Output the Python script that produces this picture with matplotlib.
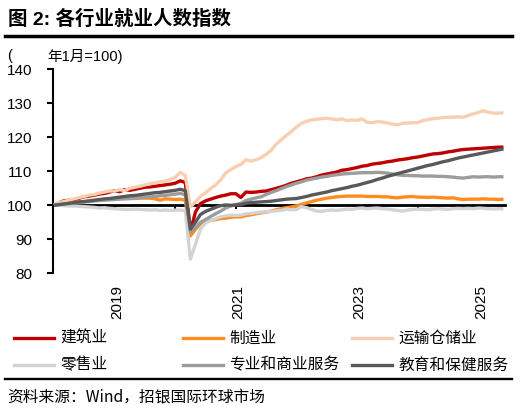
import matplotlib
matplotlib.use("Agg")
import matplotlib.pyplot as plt
from matplotlib.lines import Line2D
from matplotlib.transforms import blended_transform_factory

plt.rcParams['font.family'] = ['Liberation Sans', 'Noto Sans CJK SC', 'DejaVu Sans']

# Monthly index, Jan 2018 = 100 (Jan 2018 .. Jun 2025)
construction = [
    100.0, 100.8, 101.3, 101.5, 101.6, 102.1, 102.5, 102.7, 103.0, 103.3, 103.5, 103.9,
    104.3, 104.0, 104.6, 104.4, 104.7, 105.0, 105.3, 105.4, 105.6, 105.8, 106.0, 106.2,
    106.5, 107.2, 106.7, 92.3, 98.0, 100.5, 101.3, 101.8, 102.3, 102.7, 103.0, 103.4,
    103.4, 102.3, 103.9, 103.8, 103.9, 104.1, 104.2, 104.6, 105.0, 105.4, 105.9, 106.5,
    106.9, 107.3, 107.8, 108.0, 108.4, 108.9, 109.2, 109.5, 109.8, 110.3, 110.5, 110.8,
    111.1, 111.5, 111.7, 112.1, 112.3, 112.5, 112.8, 113.0, 113.3, 113.5, 113.7, 114.0,
    114.2, 114.5, 114.8, 115.1, 115.2, 115.4, 115.7, 115.9, 116.2, 116.4, 116.5, 116.6,
    116.7, 116.8, 116.9, 117.0, 117.1, 117.1]
manufacturing = [
    100.0, 100.2, 100.5, 100.6, 100.8, 101.0, 101.1, 101.3, 101.4, 101.6, 101.7, 101.8,
    101.9, 102.0, 102.0, 102.0, 102.0, 102.1, 102.1, 102.1, 101.9, 101.5, 101.9, 101.8,
    101.7, 101.8, 101.5, 91.0, 92.9, 94.6, 95.1, 95.6, 95.8, 96.1, 96.2, 96.5,
    96.6, 96.6, 97.0, 97.2, 97.5, 97.8, 98.0, 98.3, 98.7, 99.0, 99.3, 99.5,
    99.8, 100.3, 100.7, 101.1, 101.5, 101.8, 102.1, 102.3, 102.5, 102.6, 102.7, 102.7,
    102.7, 102.7, 102.6, 102.6, 102.6, 102.5, 102.5, 102.3, 102.2, 102.4, 102.5, 102.6,
    102.4, 102.4, 102.3, 102.4, 102.3, 102.2, 102.1, 102.2, 101.9, 101.7, 101.8, 101.8,
    101.8, 101.9, 101.8, 101.8, 101.7, 101.8]
transport = [
    100.0, 100.9, 101.1, 101.6, 101.9, 102.3, 102.6, 103.0, 103.2, 103.6, 103.9, 104.2,
    104.2, 104.6, 104.3, 105.0, 105.3, 105.6, 106.0, 106.3, 106.6, 106.9, 107.1, 107.6,
    108.2, 109.7, 108.8, 99.5, 101.0, 102.6, 103.7, 104.9, 106.0, 107.5, 109.5, 110.5,
    111.4, 112.0, 113.4, 113.0, 113.4, 114.0, 115.0, 116.2, 118.0, 119.3, 120.5, 121.7,
    123.0, 124.1, 124.7, 125.1, 125.3, 125.5, 125.6, 125.4, 125.2, 125.4, 124.9, 125.1,
    125.0, 125.4, 124.4, 124.3, 124.6, 124.5, 124.2, 123.9, 123.7, 124.1, 124.2, 124.3,
    124.3, 124.9, 125.2, 125.5, 125.6, 125.8, 125.9, 125.9, 126.0, 125.9, 126.4, 126.9,
    127.3, 127.8, 127.4, 127.1, 127.1, 127.2]
retail = [
    100.0, 100.0, 99.9, 99.8, 99.8, 99.7, 99.6, 99.5, 99.4, 99.2, 99.3, 99.1,
    99.0, 98.9, 98.8, 98.8, 98.9, 98.8, 98.7, 98.6, 98.7, 98.5, 98.6, 98.5,
    98.6, 98.6, 98.4, 84.2, 88.5, 93.0, 94.8, 95.5, 96.1, 96.6, 96.9, 97.1,
    97.0, 97.1, 97.5, 97.6, 97.8, 98.0, 98.1, 98.2, 98.4, 98.5, 98.9, 98.7,
    98.8, 99.6, 99.3, 98.8, 98.3, 98.2, 98.5, 98.6, 98.5, 98.7, 98.9, 98.8,
    99.1, 99.2, 99.0, 99.1, 99.2, 99.0, 98.9, 98.7, 98.5, 98.3, 98.6, 98.8,
    98.9, 98.8, 98.7, 98.9, 99.0, 98.9, 98.8, 99.0, 99.1, 99.0, 99.1, 99.0,
    99.2, 99.1, 99.0, 98.9, 99.0, 99.0]
professional = [
    100.0, 100.2, 100.4, 100.5, 100.7, 100.9, 101.0, 101.1, 101.3, 101.4, 101.5, 101.6,
    101.7, 101.8, 101.9, 102.0, 102.1, 102.3, 102.4, 102.5, 102.6, 102.8, 102.9, 103.1,
    103.3, 103.5, 103.1, 92.2, 93.4, 95.0, 95.8, 96.7, 97.5, 98.3, 99.2, 99.8,
    100.2, 100.6, 101.4, 101.8, 102.2, 102.5, 103.2, 103.8, 104.3, 104.9, 105.5, 106.0,
    106.5, 106.9, 107.4, 107.7, 108.0, 108.3, 108.5, 108.8, 109.0, 109.2, 109.3, 109.4,
    109.5, 109.6, 109.6, 109.6, 109.7, 109.6, 109.5, 109.2, 109.0, 108.8, 108.8, 108.7,
    108.7, 108.6, 108.6, 108.6, 108.5, 108.5, 108.4, 108.3, 108.1, 108.0, 108.2, 108.4,
    108.3, 108.4, 108.4, 108.3, 108.4, 108.4]
education = [
    100.0, 100.2, 100.4, 100.6, 100.8, 101.0, 101.1, 101.3, 101.5, 101.7, 101.9, 102.0,
    102.2, 102.4, 102.6, 102.8, 102.9, 103.1, 103.3, 103.5, 103.7, 103.8, 104.0, 104.2,
    104.4, 104.7, 104.3, 93.0, 95.0, 97.3, 98.2, 98.8, 99.4, 99.9, 100.1, 100.0,
    100.1, 100.2, 100.6, 100.8, 100.9, 101.0, 101.1, 101.2, 101.4, 101.6, 101.8, 101.9,
    102.0, 102.3, 102.6, 103.0, 103.3, 103.6, 103.9, 104.3, 104.6, 104.9, 105.2, 105.6,
    105.9, 106.3, 106.7, 107.1, 107.6, 108.0, 108.5, 108.9, 109.3, 109.7, 110.1, 110.5,
    110.9, 111.3, 111.7, 112.0, 112.4, 112.8, 113.1, 113.5, 113.9, 114.2, 114.5, 114.8,
    115.1, 115.4, 115.7, 116.0, 116.3, 116.6]

series_names = ['建筑业', '制造业', '运输仓储业', '零售业', '专业和商业服务', '教育和保健服务']
series_values = [construction, manufacturing, transport, retail, professional, education]
series_colors = ['#C00000', '#FF8C1E', '#F8CFB0', '#D3D3D3', '#9C9C9C', '#595959']

year_labels = ['2019', '2021', '2023', '2025']
year_label_months = [12, 36, 60, 84]
year_tick_months = [12, 24, 36, 48, 60, 72, 84]
y_ticks = [80, 90, 100, 110, 120, 130, 140]

W, H = 520, 413
fig = plt.figure(figsize=(W / 100, H / 100), dpi=100)
ax = fig.add_axes([52.5 / W, (H - 273.3) / H, (505 - 52.5) / W, 204 / H])

months = list(range(len(construction)))
for vals, col in zip(series_values, series_colors):
    ax.plot(months, vals, color=col, lw=2.4, solid_capstyle='butt', zorder=3)

ax.set_ylim(80, 140)
ax.set_xlim(-0.3, 89.3)
ax.set_yticks(y_ticks)
ax.set_yticklabels([str(v) for v in y_ticks])
ax.set_xticks(year_tick_months)
ax.tick_params(axis='x', direction='out', length=3, width=1.5, labelbottom=False)
ax.tick_params(axis='y', direction='out', length=4, width=1.5, labelsize=11, pad=10.5)
for s in ['top', 'right']:
    ax.spines[s].set_visible(False)
ax.spines['left'].set_linewidth(1.5)
ax.spines['bottom'].set_position(('data', 100))
ax.spines['bottom'].set_linewidth(2.0)
ax.spines['bottom'].set_zorder(2)

trans = blended_transform_factory(ax.transData, ax.transAxes)
for m, lab in zip(year_label_months, year_labels):
    ax.text(m + 0.5, -0.058, lab, transform=trans, rotation=90, ha='center', va='top', fontsize=11)

# title and rules
fig.text(8 / W, 1 - 19.5 / H, '图 2: 各行业就业人数指数', fontsize=14, fontweight='bold',
         ha='left', va='center')
fig.add_artist(Line2D([5 / W, 512 / W], [1 - 36 / H, 1 - 36 / H], color='black', lw=2.5,
                      transform=fig.transFigure))
fig.add_artist(Line2D([5 / W, 512 / W], [1 - 378.5 / H, 1 - 378.5 / H], color='black', lw=1.7,
                      transform=fig.transFigure))

# axis unit note
fig.text(7 / W, 1 - 56 / H, '(', fontsize=10.5, ha='left', va='center')
fig.text(47 / W, 1 - 56 / H, '年1月=100)', fontsize=10.5, ha='left', va='center')

# legend
col_x = [14, 183, 352]
row_y = [338.3, 365.0]
for i, (name, col) in enumerate(zip(series_names, series_colors)):
    x0 = col_x[i % 3]
    y = 1 - row_y[i // 3] / H
    fig.add_artist(Line2D([x0 / W, (x0 + 40) / W], [y, y], color=col, lw=2.4,
                          transform=fig.transFigure))
    fig.text((x0 + 46) / W, y, name, fontsize=11.3, ha='left', va='center',
             family=['Noto Sans CJK SC', 'DejaVu Sans'])

fig.text(7 / W, 1 - 397 / H, '资料来源：Wind，招银国际环球市场', fontsize=11.3, ha='left', va='center',
         family=['Noto Sans CJK SC', 'DejaVu Sans'])

fig.savefig('out.png', dpi=100)
